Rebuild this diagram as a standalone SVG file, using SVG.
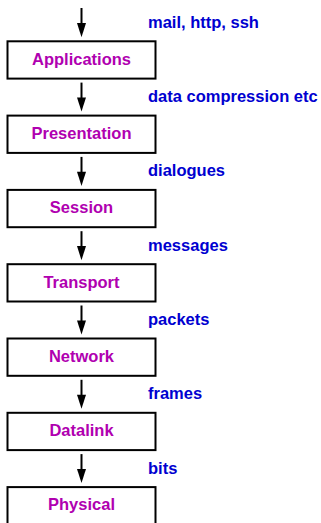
<svg xmlns="http://www.w3.org/2000/svg" width="321" height="523" viewBox="0 0 321 523">
<style>
.box rect{fill:#fff;stroke:#000;stroke-width:2}
.box text{font-family:"Liberation Sans",Arial,sans-serif;font-weight:bold;font-size:16.5px;fill:#b000b0;text-anchor:middle}
.lbl{font-family:"Liberation Sans",Arial,sans-serif;font-weight:bold;font-size:16.5px;fill:#0000d0}
.conn line{stroke:#000;stroke-width:2}
.conn path{fill:#000;stroke:none}
</style>
<rect width="321" height="523" fill="#fff"/>
<g id="connectors" class="conn">
<line x1="81.5" y1="8" x2="81.5" y2="26"/><path d="M81.5,37.3 L77,23 L86,23 Z"/>
<line x1="81.5" y1="82.6" x2="81.5" y2="100.5"/><path d="M81.5,111.6 L77,97.5 L86,97.5 Z"/>
<line x1="81.5" y1="156.9" x2="81.5" y2="174.8"/><path d="M81.5,185.9 L77,171.8 L86,171.8 Z"/>
<line x1="81.5" y1="231.2" x2="81.5" y2="249.1"/><path d="M81.5,260.2 L77,246.1 L86,246.1 Z"/>
<line x1="81.5" y1="305.5" x2="81.5" y2="323.4"/><path d="M81.5,334.5 L77,320.4 L86,320.4 Z"/>
<line x1="81.5" y1="379.8" x2="81.5" y2="397.7"/><path d="M81.5,408.8 L77,394.7 L86,394.7 Z"/>
<line x1="81.5" y1="454.1" x2="81.5" y2="472"/><path d="M81.5,483.1 L77,469 L86,469 Z"/>
</g>
<g id="labels">
<text class="lbl" x="148" y="27.7">mail, http, ssh</text>
<text class="lbl" x="148" y="102">data compression etc</text>
<text class="lbl" x="148" y="176.3">dialogues</text>
<text class="lbl" x="148" y="250.6">messages</text>
<text class="lbl" x="148" y="324.9">packets</text>
<text class="lbl" x="148" y="399.2">frames</text>
<text class="lbl" x="148" y="473.5">bits</text>
</g>
<g id="applications" class="box"><rect x="7.5" y="41.3" width="148" height="37.3"/><text x="81.5" y="64.6">Applications</text></g>
<g id="presentation" class="box"><rect x="7.5" y="115.6" width="148" height="37.3"/><text x="81.5" y="138.9">Presentation</text></g>
<g id="session" class="box"><rect x="7.5" y="189.9" width="148" height="37.3"/><text x="81.5" y="213.2">Session</text></g>
<g id="transport" class="box"><rect x="7.5" y="264.2" width="148" height="37.3"/><text x="81.5" y="287.5">Transport</text></g>
<g id="network" class="box"><rect x="7.5" y="338.5" width="148" height="37.3"/><text x="81.5" y="361.8">Network</text></g>
<g id="datalink" class="box"><rect x="7.5" y="412.8" width="148" height="37.3"/><text x="81.5" y="436.1">Datalink</text></g>
<g id="physical" class="box"><rect x="7.5" y="487.1" width="148" height="37.3"/><text x="81.5" y="510.4">Physical</text></g>
</svg>
